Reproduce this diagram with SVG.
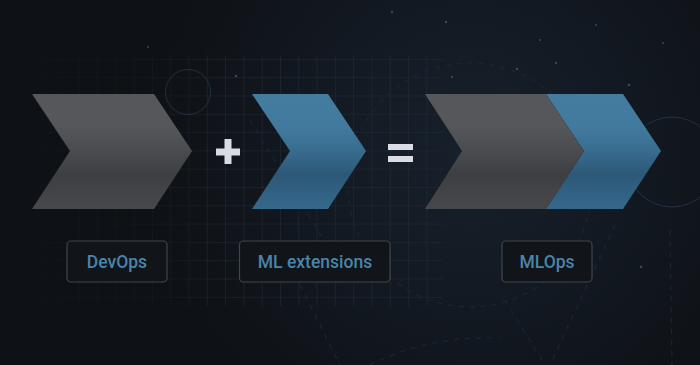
<svg xmlns="http://www.w3.org/2000/svg" width="700" height="365" viewBox="0 0 700 365">
  <defs>
    <radialGradient id="bgGlow" cx="470" cy="150" r="330" gradientUnits="userSpaceOnUse">
      <stop offset="0" stop-color="#17202b"/>
      <stop offset="0.55" stop-color="#121820"/>
      <stop offset="1" stop-color="#0e1115"/>
    </radialGradient>
    <linearGradient id="grayFill" x1="0" y1="94" x2="0" y2="209" gradientUnits="userSpaceOnUse">
      <stop offset="0" stop-color="#55575b"/>
      <stop offset="0.28" stop-color="#55575b"/>
      <stop offset="0.45" stop-color="#4c4e52"/>
      <stop offset="0.7" stop-color="#3d3f43"/>
      <stop offset="1" stop-color="#46484c"/>
    </linearGradient>
    <linearGradient id="blueFill" x1="0" y1="94" x2="0" y2="209" gradientUnits="userSpaceOnUse">
      <stop offset="0" stop-color="#437c9f"/>
      <stop offset="0.28" stop-color="#427a9d"/>
      <stop offset="0.45" stop-color="#3a7092"/>
      <stop offset="0.7" stop-color="#2d5877"/>
      <stop offset="1" stop-color="#35698c"/>
    </linearGradient>
    <pattern id="grid" x="5.5" y="4" width="18.3" height="18.3" patternUnits="userSpaceOnUse">
      <path d="M 18.3 0 L 0 0 0 18.3" fill="none" stroke="#232e3a" stroke-width="1"/>
    </pattern>
    <linearGradient id="gridFade" x1="33" y1="0" x2="442" y2="0" gradientUnits="userSpaceOnUse">
      <stop offset="0" stop-color="#fff" stop-opacity="0.25"/>
      <stop offset="0.35" stop-color="#fff" stop-opacity="0.55"/>
      <stop offset="0.45" stop-color="#fff" stop-opacity="1"/>
      <stop offset="1" stop-color="#fff" stop-opacity="1"/>
    </linearGradient>
    <mask id="gridMask">
      <rect x="33" y="55" width="410" height="251" fill="url(#gridFade)"/>
    </mask>
    <style>
      .deco { fill: none; stroke: #243040; stroke-width: 1; }
      .dash { fill: none; stroke: #1c2631; stroke-width: 1.2; stroke-dasharray: 5 6; }
      .dot { fill: #3a4656; }
      .op { fill: #d9dde3; }
      .tag rect { fill: #111418; stroke: #40464e; stroke-width: 1.2; }
      .tag text { font-family: Roboto, "Noto Sans", "Liberation Sans", sans-serif; font-weight: 500; font-size: 17.5px; fill: #4a85aa; text-anchor: middle; }
    </style>
  </defs>

  <!-- backdrop -->
  <rect width="700" height="365" fill="url(#bgGlow)"/>

  <!-- blueprint grid and decoration -->
  <g id="backdrop-lines">
    <rect x="33" y="55" width="410" height="251" fill="url(#grid)" mask="url(#gridMask)"/>
    <circle class="deco" cx="188" cy="92" r="22.5"/>
    <circle class="deco" cx="672" cy="162" r="45"/>
    <circle class="dash" cx="470" cy="185" r="122"/>
    <path class="dash" d="M 370 365 Q 430 335 500 338"/>
    <path class="dash" d="M 300 285 L 340 365"/>
    <path class="dash" d="M 615 225 L 550 365"/>
    <path class="dash" d="M 505 300 L 545 365"/>
    <path class="dash" d="M 670 230 L 672 365"/>
    <path class="dash" d="M 250 120 L 330 250"/>
    <circle class="dot" cx="392" cy="12" r="1.2"/>
    <circle class="dot" cx="446" cy="22" r="1.2"/>
    <circle class="dot" cx="452" cy="77" r="1.2"/>
    <circle class="dot" cx="517" cy="69" r="1.3"/>
    <circle class="dot" cx="556" cy="63" r="1.2"/>
    <circle class="dot" cx="596" cy="25" r="1"/>
    <circle class="dot" cx="629" cy="85" r="1.3"/>
    <circle class="dot" cx="236" cy="76" r="1.3"/>
    <circle class="dot" cx="148" cy="47" r="1"/>
    <circle class="dot" cx="641" cy="267" r="1.3"/>
    <circle class="dot" cx="540" cy="40" r="1"/>
    <circle class="dot" cx="663" cy="43" r="1"/>
  </g>

  <!-- DevOps arrow -->
  <g id="devops-arrow">
    <polygon points="32,94 154,94 192,151 154,209 32,209 70,151" fill="url(#grayFill)"/>
  </g>

  <!-- plus sign -->
  <g id="plus">
    <rect class="op" x="216" y="148.5" width="24" height="7"/>
    <rect class="op" x="224.5" y="139" width="7" height="25"/>
  </g>

  <!-- ML extensions arrow -->
  <g id="ml-arrow">
    <polygon points="252,94 328,94 366,151 328,209 252,209 290,151" fill="url(#blueFill)"/>
  </g>

  <!-- equals sign -->
  <g id="equals">
    <rect class="op" x="388" y="144" width="25" height="6"/>
    <rect class="op" x="388" y="156" width="25" height="6"/>
  </g>

  <!-- MLOps combined arrow -->
  <g id="mlops-arrow">
    <polygon points="546,94 623,94 661,151 623,209 546,209 584,151" fill="url(#blueFill)"/>
    <polygon points="425,94 546,94 584,151 546,209 425,209 462,151" fill="url(#grayFill)"/>
  </g>

  <!-- labels -->
  <g id="label-devops" class="tag">
    <rect x="67" y="241" width="100" height="41" rx="4"/>
    <text x="117" y="268">DevOps</text>
  </g>
  <g id="label-ml" class="tag">
    <rect x="239.5" y="241" width="150.5" height="41" rx="4"/>
    <text x="315" y="268">ML extensions</text>
  </g>
  <g id="label-mlops" class="tag">
    <rect x="502" y="241" width="90" height="41" rx="4"/>
    <text x="547" y="268">MLOps</text>
  </g>
</svg>
